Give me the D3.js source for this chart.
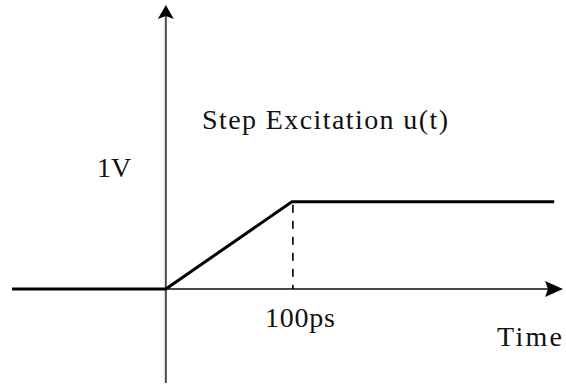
<!DOCTYPE html>
<html>
<head>
<meta charset="utf-8">
<script src="https://cdn.jsdelivr.net/npm/d3@7"></script>
<style>
  html, body { margin: 0; padding: 0; background: #fff; }
  svg { display: block; }
</style>
</head>
<body>
<svg id="chart" width="566" height="385"></svg>
<script>
// step excitation waveform: time in ps, voltage in V
const timePs = [-122, 0, 100, 308];
const voltage = [0, 0, 1, 1];

// axis extents (data units) and labels
const timeAxisExtent = [-122, 315];
const voltAxisExtent = [-1.08, 3.26];
const riseTime = 100;
const riseLabel = "100ps";
const levelLabel = "1V";
const titleLabel = "Step Excitation u(t)";
const timeLabel = "Time";

const width = 566;
const height = 385;
const fontFamily = "'Liberation Serif', 'Times New Roman', Times, serif";

const svg = d3.select("#chart");

const x = d3.scaleLinear()
  .domain(timeAxisExtent)
  .range([12, 563]);

const y = d3.scaleLinear()
  .domain(voltAxisExtent)
  .range([383, 5]);

// axes
const axisColor = "#4a4a4a";

svg.append("line")
  .attr("x1", x(timeAxisExtent[0]))
  .attr("x2", x(timeAxisExtent[1]) - 10)
  .attr("y1", y(0))
  .attr("y2", y(0))
  .attr("stroke", axisColor)
  .attr("stroke-width", 2);

svg.append("line")
  .attr("x1", x(0))
  .attr("x2", x(0))
  .attr("y1", y(voltAxisExtent[0]))
  .attr("y2", y(voltAxisExtent[1]) + 10)
  .attr("stroke", axisColor)
  .attr("stroke-width", 2);

// arrow heads
const tx = x(timeAxisExtent[1]);
const ty = y(0);
svg.append("path")
  .attr("d", `M${tx},${ty} L${tx - 18},${ty - 8} L${tx - 15},${ty} L${tx - 18},${ty + 8} Z`)
  .attr("fill", "#000");

const vx = x(0);
const vy = y(voltAxisExtent[1]);
svg.append("path")
  .attr("d", `M${vx},${vy} L${vx - 8},${vy + 14} L${vx},${vy + 11} L${vx + 8},${vy + 14} Z`)
  .attr("fill", "#000");

// waveform
const pts = timePs.map((t, i) => [t, voltage[i]]);

const line = d3.line()
  .x(d => x(d[0]))
  .y(d => y(d[1]));

svg.append("path")
  .datum(pts)
  .attr("d", line)
  .attr("fill", "none")
  .attr("stroke", "#000")
  .attr("stroke-width", 3);

// dashed marker at rise time
svg.append("line")
  .attr("x1", x(riseTime) + 1)
  .attr("x2", x(riseTime) + 1)
  .attr("y1", y(1) + 3)
  .attr("y2", y(0))
  .attr("stroke", "#000")
  .attr("stroke-width", 1.6)
  .attr("stroke-dasharray", "8,8");

// labels
function label(px, py, str, len) {
  const t = svg.append("text")
    .attr("x", px)
    .attr("y", py)
    .attr("font-family", fontFamily)
    .attr("font-size", 28)
    .attr("fill", "#111")
    .text(str);
  if (len) {
    t.attr("textLength", len).attr("lengthAdjust", "spacing");
  }
  return t;
}

label(97, 177, levelLabel);
label(202, 129, titleLabel, 246);
label(x(riseTime) - 27, 327, riseLabel, 70);
label(497, 346, timeLabel, 65);
</script>
</body>
</html>
